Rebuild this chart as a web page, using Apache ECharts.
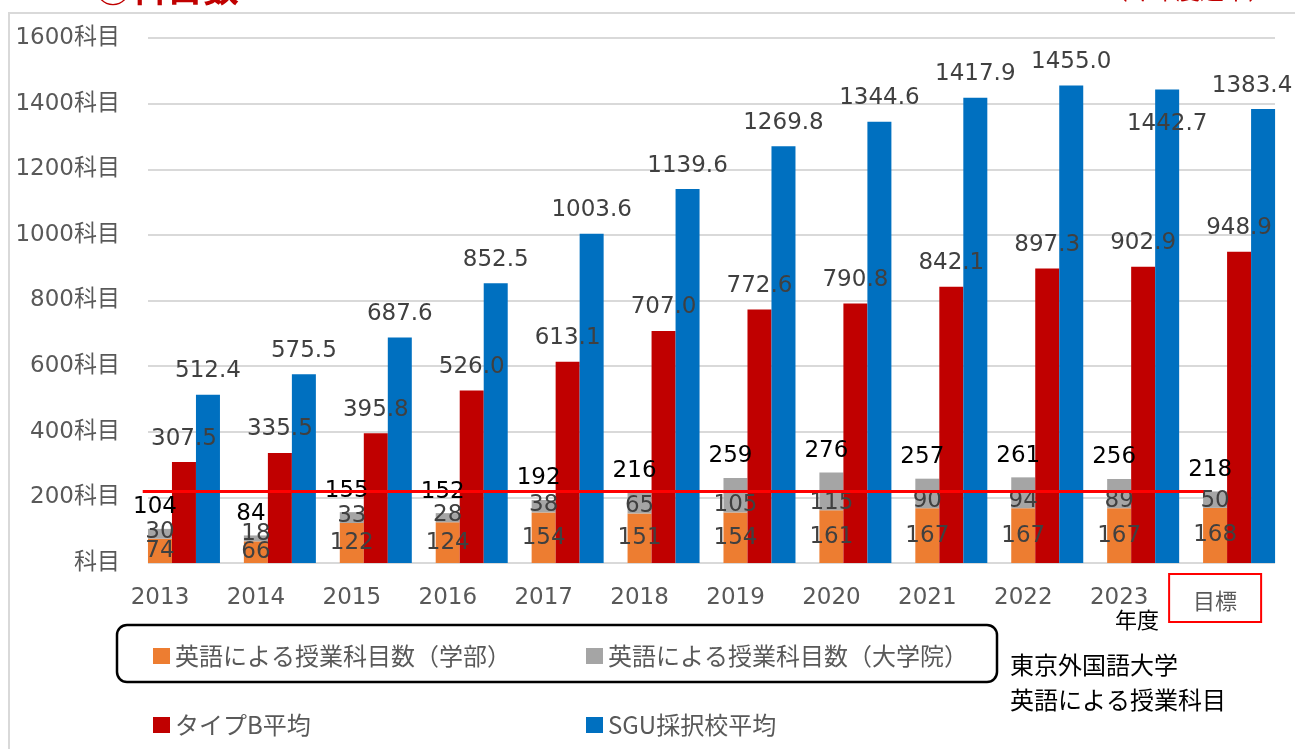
<!DOCTYPE html>
<html>
<head>
<meta charset="utf-8">
<script src="https://cdn.jsdelivr.net/npm/echarts@6/dist/echarts.min.js"></script>
<style>
  html, body { margin: 0; padding: 0; background: #ffffff; }
  #chart { width: 1295px; height: 749px; }
</style>
</head>
<body>
<div id="chart"></div>
<script>
// ---- data -------------------------------------------------------------
const YEARS = ['2013', '2014', '2015', '2016', '2017', '2018', '2019', '2020', '2021', '2022', '2023', '目標'];
// English-taught courses at the university (undergraduate / graduate)
const UNDERGRAD = [74, 66, 122, 124, 154, 151, 154, 161, 167, 167, 167, 168];
const GRADUATE = [30, 18, 33, 28, 38, 65, 105, 115, 90, 94, 89, 50];
// Benchmark averages
const TYPE_B_AVG = [307.5, 335.5, 395.8, 526.0, 613.1, 707.0, 772.6, 790.8, 842.1, 897.3, 902.9, 948.9];
const SGU_AVG = [512.4, 575.5, 687.6, 852.5, 1003.6, 1139.6, 1269.8, 1344.6, 1417.9, 1455.0, 1442.7, 1383.4];
// Reference level drawn as a horizontal rule
const TARGET_COURSES = 218;
const Y_MIN = 0, Y_MAX = 1600, Y_STEP = 200;

const NAMES = {
  undergrad: '英語による授業科目数（学部）',
  graduate: '英語による授業科目数（大学院）',
  typeB: 'タイプB平均',
  sgu: 'SGU採択校平均'
};

const TOTALS = UNDERGRAD.map((v, i) => v + GRADUATE[i]);

// ---- styling ----------------------------------------------------------
const FONT = '"DejaVu Sans", "Noto Sans CJK JP", sans-serif';
const JP_FONT = '"Noto Sans CJK JP", "Noto Sans", sans-serif';
const COLORS = { undergrad: '#ED7D31', graduate: '#A5A5A5', typeB: '#C00000', sgu: '#0070C0', rule: '#FF0000' };
const LABEL_SIZE = 23;
const AXIS_SIZE = 23;
const BAR_W = 24;

// Three grids share the same vertical extent:
//  0 - value axis labels and gridlines
//  1 - bar columns (category band 96px, columns start at the band edge)
//  2 - year labels placed under the first column of each band
const TOP = 38, BOTTOM = 186;
const BAND = 95.92;
const BAR_LEFT = 136;

// label nudges for the SGU column where neighbouring text would collide
const SGU_LABEL_NUDGE = { '2023': [0, 58], '目標': [-11, 0] };

const chart = echarts.init(document.getElementById('chart'), null, { renderer: 'canvas' });

const valueLabel = (extra) => Object.assign({
  show: true,
  position: 'top',
  distance: 12,
  color: '#404040',
  fontSize: LABEL_SIZE,
  fontFamily: FONT,
  formatter: (p) => Number(p.value).toFixed(1)
}, extra || {});

const legendBase = {
  orient: 'vertical', top: 644, itemGap: 45, padding: 0,
  itemWidth: 17, itemHeight: 16, icon: 'rect', selectedMode: false,
  textStyle: { color: '#595959', fontSize: 24, fontFamily: JP_FONT }
};

const option = {
  animation: false,
  backgroundColor: '#ffffff',
  grid: [
    { left: 148, right: 20, top: TOP, bottom: BOTTOM },
    { left: BAR_LEFT, width: BAND * YEARS.length, top: TOP, bottom: BOTTOM },
    { left: BAR_LEFT + BAR_W, width: BAND * (YEARS.length - 1), top: TOP, bottom: BOTTOM }
  ],
  xAxis: [
    { gridIndex: 0, type: 'category', data: YEARS, show: false },
    { gridIndex: 1, type: 'category', data: YEARS, show: false },
    {
      gridIndex: 2, type: 'category', data: YEARS, boundaryGap: false,
      axisLine: { show: false }, axisTick: { show: false }, splitLine: { show: false },
      axisLabel: {
        interval: 0,
        margin: 35,
        verticalAlign: 'middle',
        color: '#595959',
        fontSize: AXIS_SIZE,
        fontFamily: FONT,
        formatter: (v) => v === '目標' ? '{goal|' + v + '}' : v,
        rich: {
          goal: {
            color: '#595959', fontSize: 22, fontFamily: JP_FONT,
            borderColor: '#FF0000', borderWidth: 2,
            padding: [16, 24, 10, 24]
          }
        }
      }
    },
    // continuous companion of the bar axis, used for the reference rule
    { gridIndex: 1, type: 'value', position: 'top', min: -0.5, max: YEARS.length - 0.5, show: false }
  ],
  yAxis: [
    {
      gridIndex: 0, type: 'value', min: Y_MIN, max: Y_MAX, interval: Y_STEP,
      axisLine: { show: false }, axisTick: { show: false },
      splitLine: { show: true, lineStyle: { color: '#D9D9D9', width: 2 } },
      axisLabel: {
        margin: 28,
        color: '#595959',
        fontSize: AXIS_SIZE,
        fontFamily: FONT,
        verticalAlign: 'middle',
        padding: [0, 0, 7, 0],
        formatter: (v) => (v === 0 ? '' : v) + '科目'
      }
    },
    { gridIndex: 1, type: 'value', min: Y_MIN, max: Y_MAX, show: false },
    { gridIndex: 2, type: 'value', min: Y_MIN, max: Y_MAX, show: false }
  ],
  legend: [
    Object.assign({}, legendBase, { left: 153, data: [NAMES.undergrad, NAMES.typeB] }),
    Object.assign({}, legendBase, { left: 586, data: [NAMES.graduate, NAMES.sgu] })
  ],
  series: [
    {
      name: NAMES.undergrad, type: 'bar', xAxisIndex: 1, yAxisIndex: 1,
      stack: 'courses', barWidth: BAR_W, barGap: '0%',
      itemStyle: { color: COLORS.undergrad },
      label: { show: true, position: 'inside', color: '#404040', fontSize: LABEL_SIZE, fontFamily: FONT },
      data: UNDERGRAD
    },
    {
      name: NAMES.graduate, type: 'bar', xAxisIndex: 1, yAxisIndex: 1,
      stack: 'courses', barWidth: BAR_W, barGap: '0%',
      itemStyle: { color: COLORS.graduate },
      label: {
        show: true, position: ['50%', '100%'], align: 'center', verticalAlign: 'middle',
        offset: [0, -7], color: '#404040', fontSize: LABEL_SIZE, fontFamily: FONT
      },
      data: GRADUATE
    },
    {
      // carries the combined total above each stacked column
      name: 'total', type: 'bar', xAxisIndex: 1, yAxisIndex: 1,
      stack: 'courses', barWidth: BAR_W, barGap: '0%',
      itemStyle: { color: 'transparent' },
      label: {
        show: true, position: 'top', distance: 10, offset: [-5, 0],
        color: '#000000', fontSize: LABEL_SIZE, fontFamily: FONT,
        formatter: (p) => String(TOTALS[p.dataIndex])
      },
      data: TOTALS.map(() => 0)
    },
    {
      name: NAMES.typeB, type: 'bar', xAxisIndex: 1, yAxisIndex: 1,
      barWidth: BAR_W, barGap: '0%',
      itemStyle: { color: COLORS.typeB },
      label: valueLabel(),
      data: TYPE_B_AVG
    },
    {
      name: NAMES.sgu, type: 'bar', xAxisIndex: 1, yAxisIndex: 1,
      barWidth: BAR_W, barGap: '0%',
      itemStyle: { color: COLORS.sgu },
      label: valueLabel(),
      data: SGU_AVG.map((v, i) => SGU_LABEL_NUDGE[YEARS[i]]
        ? { value: v, label: { offset: SGU_LABEL_NUDGE[YEARS[i]] } }
        : v)
    },
    {
      name: 'target', type: 'line', xAxisIndex: 3, yAxisIndex: 1,
      symbol: 'none', silent: true, z: 5,
      lineStyle: { color: COLORS.rule, width: 3 },
      data: [[-0.43, TARGET_COURSES], [YEARS.length - 1.37, TARGET_COURSES]]
    }
  ],
  graphic: [
    {
      type: 'rect', silent: true, z: -1,
      shape: { x: 9, y: 13, width: 1320, height: 800 },
      style: { fill: 'none', stroke: '#D9D9D9', lineWidth: 2 }
    },
    {
      type: 'text', left: 95, top: -30, silent: true,
      style: { text: '①科目数', fill: '#C00000', font: 'bold 36px ' + JP_FONT }
    },
    {
      type: 'text', left: 1104, top: -22, silent: true,
      style: { text: '（今年度途中）', fill: '#C00000', font: '24px ' + JP_FONT }
    },
    {
      type: 'rect', silent: true,
      shape: { x: 117, y: 625, width: 880, height: 57, r: 10 },
      style: { fill: 'none', stroke: '#000000', lineWidth: 2.5 }
    },
    {
      type: 'text', left: 1115, top: 609, silent: true,
      style: { text: '年度', fill: '#000000', font: '22px ' + JP_FONT }
    },
    {
      type: 'text', left: 1010, top: 653, silent: true,
      style: { text: '東京外国語大学', fill: '#000000', font: '24px ' + JP_FONT }
    },
    {
      type: 'text', left: 1010, top: 688, silent: true,
      style: { text: '英語による授業科目', fill: '#000000', font: '24px ' + JP_FONT }
    }
  ]
};

chart.setOption(option);
</script>
</body>
</html>
